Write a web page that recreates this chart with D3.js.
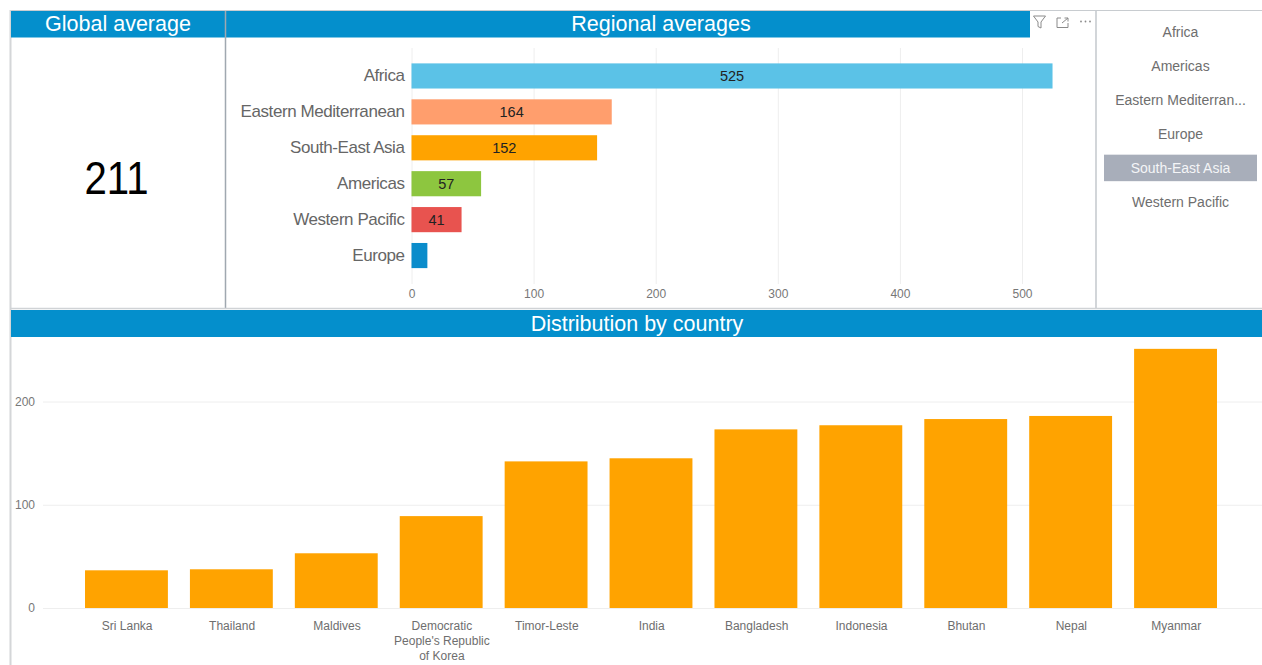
<!DOCTYPE html>
<html>
<head>
<meta charset="utf-8">
<script src="https://cdn.jsdelivr.net/npm/d3@7"></script>
<style>
  html, body { margin: 0; padding: 0; background: #fff; overflow: hidden; }
  svg { display: block; font-family: "Liberation Sans", Arial, sans-serif; }
</style>
</head>
<body>
<svg id="chart" width="1262" height="665"></svg>
<script>
const regions = ['Africa', 'Eastern Mediterranean', 'South-East Asia', 'Americas', 'Western Pacific', 'Europe']
const regionValues = [525, 164, 152, 57, 41, 13]
const regionLabels = ['525', '164', '152', '57', '41', '']
const regionColors = ['#5BC2E7', '#FF9E6D', '#FFA300', '#8DC63F', '#E8534F', '#0A8CCB']
const regionTicks = [0, 100, 200, 300, 400, 500]

const slicerItems = ['Africa', 'Americas', 'Eastern Mediterran...', 'Europe', 'South-East Asia', 'Western Pacific']
const slicerSelected = 'South-East Asia'

const countries = ['Sri Lanka', 'Thailand', 'Maldives', "Democratic People's Republic of Korea", 'Timor-Leste', 'India', 'Bangladesh', 'Indonesia', 'Bhutan', 'Nepal', 'Myanmar']
const countryLines = [['Sri Lanka'], ['Thailand'], ['Maldives'], ['Democratic', "People's Republic", 'of Korea'], ['Timor-Leste'], ['India'], ['Bangladesh'], ['Indonesia'], ['Bhutan'], ['Nepal'], ['Myanmar']]
const countryValues = [36.5, 37.5, 53, 89, 142, 145, 173, 177, 183, 186, 251]
const countryTicks = [0, 100, 200]

const globalAverage = '211'

const blue = '#048FCC'
const svg = d3.select('#chart')

// panel frames
const line = (x1, y1, x2, y2, color, w) => svg.append('line')
    .attr('x1', x1).attr('y1', y1).attr('x2', x2).attr('y2', y2)
    .attr('stroke', color).attr('stroke-width', w)

const header = (x, y, w, h, label, cx) => {
    svg.append('rect').attr('x', x).attr('y', y).attr('width', w).attr('height', h).attr('fill', blue)
    svg.append('text').attr('x', cx).attr('y', y + h / 2 + 1.5)
        .attr('text-anchor', 'middle').attr('dominant-baseline', 'middle')
        .attr('fill', '#fff').attr('font-size', 21.5).text(label)
}

line(10, 10.5, 1262, 10.5, '#c8ccd0', 1)
line(10.5, 10, 10.5, 665, '#d4d6d8', 2)
header(11, 11, 214, 26.5, 'Global average', 118)
header(226, 11, 804, 26.5, 'Regional averages', 661)
line(225.5, 11, 225.5, 309, '#a0a8b0', 1.5)
line(1096, 11, 1096, 309, '#b4bac0', 1.2)
line(10, 308.5, 1262, 308.5, '#d0d3d6', 1.5)
header(11, 310, 1251, 27, 'Distribution by country', 637)

svg.append('text').attr('x', 116.5).attr('y', 194)
    .attr('text-anchor', 'middle').attr('font-size', 47).attr('fill', '#000')
    .attr('textLength', 64).attr('lengthAdjust', 'spacingAndGlyphs')
    .text(globalAverage)

// regional averages
const xRegion = d3.scaleLinear().domain([0, 500]).range([411.5, 1022])
const yRegion = d3.scaleBand().domain(regions).range([58, 273.5]).paddingInner(0.3).paddingOuter(0.15)

const regionAxis = svg.append('g')
    .attr('transform', 'translate(0,284)')
    .call(d3.axisBottom(xRegion).tickValues(regionTicks).tickSize(-236).tickPadding(5))
regionAxis.select('.domain').remove()
regionAxis.selectAll('line').attr('stroke', '#eeeeee')
regionAxis.selectAll('text').attr('fill', '#777').attr('font-size', 12).attr('font-family', 'inherit')

const regionCats = svg.append('g')
    .attr('transform', 'translate(411.5,0)')
    .call(d3.axisLeft(yRegion).tickSize(0).tickPadding(7))
regionCats.select('.domain').remove()
regionCats.selectAll('text').attr('fill', '#666').attr('font-size', 17).attr('font-family', 'inherit')
    .attr('letter-spacing', -0.43)

svg.append('g').selectAll('rect')
    .data(regions)
    .join('rect')
    .attr('x', xRegion(0))
    .attr('y', d => yRegion(d))
    .attr('width', (d, i) => xRegion(regionValues[i]) - xRegion(0))
    .attr('height', yRegion.bandwidth())
    .attr('fill', (d, i) => regionColors[i])

svg.append('g').selectAll('text')
    .data(regions)
    .join('text')
    .attr('x', (d, i) => (xRegion(0) + xRegion(regionValues[i])) / 2)
    .attr('y', d => yRegion(d) + yRegion.bandwidth() / 2 + 1.5)
    .attr('text-anchor', 'middle').attr('dominant-baseline', 'middle')
    .attr('font-size', 14.5).attr('fill', '#222')
    .text((d, i) => regionLabels[i])

// header icons
const icons = svg.append('g').attr('fill', 'none').attr('stroke', '#8a8a8a').attr('stroke-width', 1)
icons.append('path').attr('d', 'M1033.5 16 H1045.5 L1041 22 V28 L1038 26.5 V22 Z')
icons.append('path').attr('d', 'M1057 27.5 V18 H1061 M1057 27.5 H1068 V23 M1062 23 L1068 18 M1064.5 18 H1068 V21.5')
svg.append('g').attr('fill', '#8a8a8a').selectAll('circle')
    .data([1081, 1085.5, 1090])
    .join('circle')
    .attr('cx', d => d).attr('cy', 21.5).attr('r', 0.9)

// slicer
const ySlicer = d3.scaleBand().domain(slicerItems).range([15, 218.5])
svg.append('rect')
    .attr('x', 1104).attr('y', ySlicer(slicerSelected) + 4)
    .attr('width', 153).attr('height', 26.5).attr('fill', '#A8AEBA')
svg.append('g').selectAll('text')
    .data(slicerItems)
    .join('text')
    .attr('x', 1180.5)
    .attr('y', d => ySlicer(d) + ySlicer.bandwidth() / 2 + 1.5)
    .attr('text-anchor', 'middle').attr('dominant-baseline', 'middle')
    .attr('font-size', 14)
    .attr('fill', d => d === slicerSelected ? '#f4f5f7' : '#6e6e6e')
    .text(d => d)

// distribution by country
const xCountry = d3.scaleBand().domain(countries).range([74, 1228]).paddingInner(0.21).paddingOuter(0.105)
const yCountry = d3.scaleLinear().domain([0, 200]).range([608, 401.5])

const countryGrid = svg.append('g')
    .attr('transform', 'translate(43,0)')
    .call(d3.axisLeft(yCountry).tickValues(countryTicks).tickSize(-1219).tickPadding(8))
countryGrid.select('.domain').remove()
countryGrid.selectAll('line').attr('stroke', '#eeeeee')
countryGrid.selectAll('text').attr('fill', '#777').attr('font-size', 12).attr('font-family', 'inherit')

svg.append('g').selectAll('rect')
    .data(countries)
    .join('rect')
    .attr('x', d => xCountry(d))
    .attr('y', (d, i) => yCountry(countryValues[i]))
    .attr('width', xCountry.bandwidth())
    .attr('height', (d, i) => yCountry(0) - yCountry(countryValues[i]))
    .attr('fill', '#FFA300')

const countryAxis = svg.append('g')
    .attr('transform', 'translate(0,608)')
    .call(d3.axisBottom(xCountry).tickSize(0).tickPadding(0))
countryAxis.select('.domain').remove()
countryAxis.selectAll('text').remove()
countryAxis.selectAll('.tick').each(function (d, i) {
    const t = d3.select(this).append('text')
        .attr('text-anchor', 'middle').attr('fill', '#6e6e6e').attr('font-size', 12).attr('font-family', 'inherit')
    countryLines[i].forEach((s, k) => {
        t.append('tspan').attr('x', 0.7).attr('y', 22 + k * 15).text(s)
    })
})
</script>
</body>
</html>
